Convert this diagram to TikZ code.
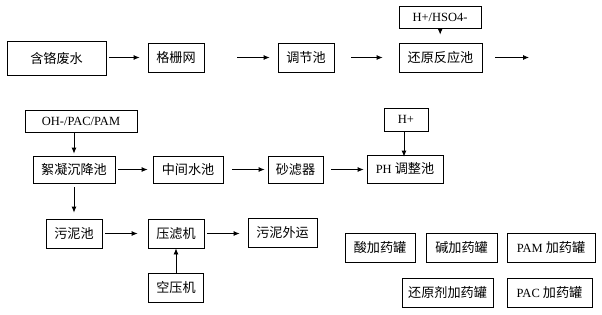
\documentclass[tikz,border=0pt]{standalone}
\usepackage{fontspec}
\setmainfont{Liberation Serif}
\newfontfamily\cjk[Scale=1.05]{Noto Sans CJK SC}
\usetikzlibrary{arrows.meta}
\tikzset{
  box/.style={draw, line width=0.8pt, inner sep=0pt, align=center, font=\fontsize{12.5}{14}\selectfont},
  arr/.style={line width=0.8pt, -{Latex[length=6pt,width=5pt]}}
}
\begin{document}
\begin{tikzpicture}[x=1pt,y=-1pt]
\useasboundingbox (0,0) rectangle (602,314);
% row 1
\node[box, minimum width=99pt, minimum height=34pt] (a) at (56.5,58) {\cjk 含铬废水};
\node[box, minimum width=56pt, minimum height=29pt] (b) at (176,57.5) {\cjk 格栅网};
\node[box, minimum width=56pt, minimum height=29pt] (c) at (306,57.5) {\cjk 调节池};
\node[box, minimum width=83pt, minimum height=29pt] (d) at (440.5,57.5) {\cjk 还原反应池};
\node[box, minimum width=82pt, minimum height=22pt] (e) at (440,17) {H+/HSO4-};
\coordinate (dend) at (529,57.5);
% row 2
\node[box, minimum width=112pt, minimum height=22pt] (f) at (81,121) {OH-/PAC/PAM};
\node[box, minimum width=82pt, minimum height=27pt] (g) at (74,169.5) {\cjk 絮凝沉降池};
\node[box, minimum width=70pt, minimum height=27pt] (h) at (188,169.5) {\cjk 中间水池};
\node[box, minimum width=55pt, minimum height=27pt] (i) at (295.5,169.5) {\cjk 砂滤器};
\node[box, minimum width=44pt, minimum height=23pt] (j) at (406,119.5) {H+};
\node[box, minimum width=76pt, minimum height=28pt] (k) at (405,169) {PH {\cjk 调整池}};
% row 3
\node[box, minimum width=56pt, minimum height=29pt] (l) at (74,233.5) {\cjk 污泥池};
\node[box, minimum width=56pt, minimum height=29pt] (m) at (176,233.5) {\cjk 压滤机};
\node[box, minimum width=69pt, minimum height=29pt] (n) at (282.5,232.5) {\cjk 污泥外运};
\node[box, minimum width=55pt, minimum height=29pt] (o) at (176,287.5) {\cjk 空压机};
% tanks
\node[box, minimum width=70pt, minimum height=29pt] (p) at (380,247.5) {\cjk 酸加药罐};
\node[box, minimum width=71pt, minimum height=29pt] (q) at (461.5,247.5) {\cjk 碱加药罐};
\node[box, minimum width=88pt, minimum height=29pt] (r) at (551,247.5) {PAM {\cjk 加药罐}};
\node[box, minimum width=91pt, minimum height=29pt] (s) at (447.5,292.5) {\cjk 还原剂加药罐};
\node[box, minimum width=85pt, minimum height=29pt] (t) at (549.5,292.5) {PAC {\cjk 加药罐}};
% connectors
\draw[arr, shorten <=3pt, shorten >=8pt] (a.east |- b.east) -- (b.west);
\draw[arr, shorten <=33pt, shorten >=8pt] (b) -- (c);
\draw[arr, shorten <=17pt, shorten >=16pt] (c) -- (d);
\draw[arr, shorten <=13pt] (d.east) -- (dend);
\draw[arr, shorten >=8pt] (e) -- (d);
\draw[arr, shorten >=2pt] (g.north |- f.south) -- (g.north);
\draw[arr, shorten <=3pt, shorten >=5pt] (g) -- (h);
\draw[arr, shorten <=9pt, shorten >=3pt] (h) -- (i);
\draw[arr, shorten <=8pt, shorten >=3pt] (i) -- (k.west |- i.east);
\draw[arr, shorten >=-2pt] (k.north -| j.south) ++(-2,0) coordinate (jk) (j.south -| jk) -- (jk);
\draw[arr, shorten <=4pt, shorten >=6pt] (g) -- (l);
\draw[arr, shorten <=3pt, shorten >=10pt] (l) -- (m);
\draw[arr, shorten <=3pt, shorten >=8pt] (m.east) -- (n.west |- m.east);
\draw[arr] (o) -- (m);
\end{tikzpicture}
\end{document}
